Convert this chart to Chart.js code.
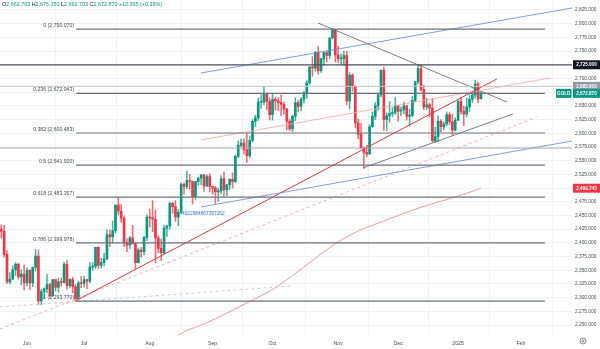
<!DOCTYPE html>
<html>
<head>
<meta charset="utf-8">
<script src="https://cdn.jsdelivr.net/npm/chart.js@4.4.1/dist/chart.umd.min.js"></script>
<style>
  html, body { margin: 0; padding: 0; background: #ffffff; }
  #wrap { width: 600px; height: 349px; position: relative; }
  canvas { display: block; }
</style>
</head>
<body>
<div id="wrap"><canvas id="c" width="600" height="349"></canvas></div>
<script>
// XAU/USD daily sessions, 20 May 2024 (index 0) to 14 Jan 2025 (index 169)
const opens = [
  2415,2425,2421,2379,2329,2334,2351,2361,2338,2343,
  2327,2350,2327,2355,2376,2294,2311,2316,2324,2304,
  2333,2319,2329,2328,2361,2322,2333,2320,2298,2327,
  2326,2333,2330,2356,2357,2392,2359,2364,2371,2415,
  2411,2422,2469,2458,2445,2400,2396,2409,2398,2364,
  2387,2384,2410,2447,2446,2443,2409,2390,2382,2427,
  2431,2472,2466,2447,2456,2507,2503,2514,2512,2484,
  2512,2518,2524,2504,2521,2503,2500,2493,2495,2517,
  2497,2506,2516,2512,2558,2578,2582,2570,2559,2587,
  2622,2628,2657,2657,2672,2658,2634,2662,2659,2656,
  2653,2644,2622,2608,2631,2656,2649,2662,2674,2692,
  2721,2719,2748,2714,2736,2747,2742,2774,2788,2743,
  2736,2736,2742,2659,2706,2685,2619,2598,2573,2565,
  2562,2612,2631,2650,2670,2715,2625,2632,2636,2638,
  2650,2640,2643,2650,2631,2633,2660,2694,2718,2680,
  2648,2652,2646,2586,2594,2622,2612,2617,2634,2621,
  2606,2624,2658,2640,2635,2648,2662,2670,2690,2662.703
];
const highs = [
  2450,2433,2432,2386,2346,2358,2364,2363,2351,2360,
  2354,2351,2356,2388,2387,2315,2318,2342,2326,2333,
  2334,2336,2336,2365,2368,2335,2337,2324,2330,2339,
  2339,2334,2364,2364,2392,2393,2372,2381,2424,2424,
  2440,2469,2483,2470,2449,2408,2412,2432,2399,2390,
  2392,2412,2451,2462,2477,2460,2413,2407,2432,2432,
  2474,2474,2477,2461,2509,2509,2531,2525,2513,2512,
  2520,2525,2525,2524,2526,2504,2503,2500,2523,2529,
  2507,2517,2528,2560,2586,2590,2590,2600,2595,2625,
  2633,2664,2670,2685,2674,2665,2673,2666,2665,2670,
  2657,2646,2625,2633,2665,2660,2665,2676,2696,2722,
  2740,2749,2758,2737,2748,2750,2774,2790,2790.07,2759,
  2745,2750,2750,2711,2709,2687,2626,2618,2575,2578,
  2616,2639,2656,2673,2716,2721,2637,2658,2647,2666,
  2651,2648,2657,2651,2644,2668,2695,2726,2726,2688,
  2664,2655,2664,2611,2632,2625,2621,2639,2638,2635,
  2628,2660,2665,2649,2664,2670,2674,2697,2693,2675.35
];
const lows = [
  2411,2409,2374,2326,2325,2333,2340,2334,2323,2314,
  2321,2315,2320,2349,2287,2287,2298,2309,2301,2302,
  2312,2310,2321,2326,2316,2318,2309,2294,2297,2318,
  2319,2316,2327,2350,2353,2353,2354,2358,2369,2393,
  2400,2418,2451,2438,2393,2384,2390,2400,2353,2363,
  2374,2378,2404,2429,2420,2364,2382,2368,2380,2412,
  2425,2454,2439,2431,2453,2489,2499,2498,2471,2479,
  2505,2506,2494,2502,2493,2489,2472,2476,2490,2485,
  2486,2497,2500,2510,2555,2575,2562,2547,2555,2584,
  2612,2623,2646,2652,2643,2624,2624,2642,2641,2632,
  2635,2606,2605,2603,2623,2639,2641,2655,2664,2689,
  2704,2713,2708,2711,2724,2730,2736,2772,2730,2729,
  2726,2724,2652,2644,2677,2610,2590,2572,2536,2557,
  2562,2611,2625,2642,2667,2605,2605,2620,2630,2634,
  2622,2632,2636,2624,2613,2630,2657,2690,2677,2643,
  2643,2630,2584,2583,2584,2603,2606,2614,2616,2597,
  2604,2623,2635,2614,2630,2640,2656,2664,2656,2662.703
];
const closes = [
  2425,2421,2379,2329,2334,2351,2361,2338,2343,2327,
  2350,2327,2355,2376,2294,2311,2316,2324,2304,2333,
  2319,2329,2328,2361,2322,2333,2320,2298,2327,2326,
  2333,2330,2356,2357,2392,2359,2364,2371,2415,2411,
  2422,2469,2458,2445,2400,2396,2409,2398,2364,2387,
  2384,2410,2447,2446,2443,2409,2390,2382,2427,2431,
  2472,2466,2447,2456,2507,2503,2514,2512,2484,2512,
  2518,2524,2504,2521,2503,2500,2493,2495,2517,2497,
  2506,2516,2512,2558,2578,2582,2570,2559,2587,2622,
  2628,2657,2657,2672,2658,2634,2662,2659,2656,2653,
  2644,2622,2608,2631,2656,2649,2662,2674,2692,2721,
  2719,2748,2714,2736,2747,2742,2774,2788,2743,2736,
  2736,2742,2659,2706,2685,2619,2598,2573,2565,2562,
  2612,2631,2650,2670,2715,2625,2632,2636,2638,2650,
  2640,2643,2650,2631,2633,2660,2694,2718,2680,2648,
  2652,2646,2586,2594,2622,2612,2617,2634,2621,2606,
  2624,2658,2640,2635,2648,2662,2670,2690,2662.475,2672.87
];

// Month labels on the time axis and the session index where each month starts
const monthNames = ['Jun', 'Jul', 'Aug', 'Sep', 'Oct', 'Nov', 'Dec', '2025', 'Feb'];
const monthStart = [10, 30, 53, 75, 96, 119, 140, 161, 183];

// Price axis labels
const priceTicks = [2250, 2275, 2300, 2325, 2350, 2375, 2400, 2425, 2450, 2475, 2500, 2525,
  2550, 2575, 2600, 2625, 2650, 2675, 2700, 2725, 2750, 2775, 2800, 2825];

// 200-day moving average, sampled by session index
const maIndex = [55, 60, 66, 72, 80, 88, 96, 106, 113, 120, 127, 134, 141, 148, 155, 162, 169];
const maValue = [2205, 2222, 2240, 2252, 2272, 2293, 2315, 2352, 2380, 2405, 2424, 2438, 2452, 2465, 2476, 2487, 2499.745];

// Fibonacci retracement from the 26 Jun low to the 31 Oct high
const fibLevels = ['0', '0.236', '0.382', '0.5', '0.618', '0.786', '1'];
const fibPrices = [2790.070, 2672.943, 2600.483, 2541.920, 2483.357, 2399.978, 2293.770];
const fibSpan = [27.2, 191.4];

// Horizontal price levels across the whole chart
const levelPrices = [2725, 2685.6, 2573];

// Trend lines: [startIndex, startPrice, endIndex, endPrice]
const channelUpper = [70.95, 2710.0, 200.9, 2828.6];
const channelLower = [70.95, 2465.5, 200.9, 2585.9];
const supportLine = [27.0, 2294.0, 174.6, 2699.1];
const midLine = [70.95, 2587.8, 193.2, 2700.9];
const dashedSupport = [0.54, 2242.9, 188.6, 2629.7];
const dashedBase = [0.54, 2283.0, 102.8, 2321.4];
const triangleTop = [111.9, 2801.3, 178.1, 2657.1];
const triangleBottom = [127.7, 2536.7, 180.2, 2635.2];

const channelTag = '4022984667397152';

const UP = '#089981';
const DOWN = '#f23645';
const FONT = '"Liberation Sans", Arial, sans-serif';

function fmt(v) {
  return v.toLocaleString('en-US', { minimumFractionDigits: 3, maximumFractionDigits: 3 });
}

const candleColors = closes.map((c, i) => (c >= opens[i] ? UP : DOWN));
const wickColors = closes.map((c, i) => (c >= opens[i] ? 'rgba(8,153,129,0.75)' : 'rgba(242,54,69,0.75)'));

function seg(p, color, width, dash) {
  return {
    type: 'line',
    data: [{ x: p[0], y: p[1] }, { x: p[2], y: p[3] }],
    borderColor: color,
    borderWidth: width,
    borderDash: dash || [],
    pointRadius: 0,
    fill: false,
    order: 0
  };
}

const datasets = [
  {
    type: 'bar',
    data: highs.map((h, i) => ({ x: i, y: [lows[i], h] })),
    backgroundColor: wickColors,
    barThickness: 0.9,
    grouped: false,
    order: 3
  },
  {
    type: 'bar',
    data: opens.map((o, i) => ({ x: i, y: [o, closes[i]] })),
    backgroundColor: candleColors,
    barThickness: 2,
    minBarLength: 0.8,
    grouped: false,
    order: 2
  },
  {
    type: 'line',
    data: maIndex.map((x, i) => ({ x, y: maValue[i] })),
    borderColor: '#f08080',
    borderWidth: 0.8,
    pointRadius: 0,
    cubicInterpolationMode: 'monotone',
    fill: false,
    order: 1
  }
];

// Fibonacci level lines
fibPrices.forEach((p) => {
  datasets.push(seg([fibSpan[0], p, fibSpan[1], p], '#6f727c', 1.2));
});
// Full-width price levels
datasets.push(seg([0.54, levelPrices[0], 200.9, levelPrices[0]], '#50535e', 1.3));
datasets.push(seg([0.54, levelPrices[1], 200.9, levelPrices[1]], '#c3c6ce', 1));
datasets.push(seg([0.54, levelPrices[2], 200.9, levelPrices[2]], '#a3a6af', 1));
// Trend lines
datasets.push(seg(channelUpper, '#5f84e0', 0.8));
datasets.push(seg(channelLower, '#5f84e0', 0.8));
datasets.push(seg(supportLine, '#e2363c', 1));
datasets.push(seg(midLine, '#f2a4a4', 0.8));
datasets.push(seg(dashedSupport, '#f29a9a', 0.8, [3, 3]));
datasets.push(seg(dashedBase, '#bfc2ca', 0.8, [3, 3]));
datasets.push(seg(triangleTop, '#5a5e69', 0.8));
datasets.push(seg(triangleBottom, '#5a5e69', 0.8));

const overlay = {
  id: 'overlay',
  afterDatasetsDraw(chart) {
    const ctx = chart.ctx;
    const xs = chart.scales.x;
    const ys = chart.scales.y;
    ctx.save();

    // Fibonacci labels at the left end of each level
    ctx.font = '5.2px ' + FONT;
    ctx.fillStyle = '#4a4d57';
    ctx.textAlign = 'right';
    ctx.textBaseline = 'bottom';
    const lx = xs.getPixelForValue(fibSpan[0]) - 2;
    fibPrices.forEach((p, i) => {
      ctx.fillText(fibLevels[i] + ' (' + fmt(p) + ')', lx, ys.getPixelForValue(p) - 1);
    });

    // Channel tag next to the lower channel line
    ctx.fillStyle = '#3c6ce0';
    ctx.textAlign = 'left';
    ctx.textBaseline = 'middle';
    ctx.font = '4.8px ' + FONT;
    ctx.fillText(channelTag, xs.getPixelForValue(channelLower[0]) - 19, ys.getPixelForValue(channelLower[1]) + 7);

    ctx.restore();
  },
  afterDraw(chart) {
    const ctx = chart.ctx;
    const ys = chart.scales.y;
    const last = closes.length - 1;
    ctx.save();

    // OHLC header of the latest session
    const change = closes[last] - closes[last - 1];
    const pct = change / closes[last - 1] * 100;
    const parts = [
      ['O', '#131722'], [fmt(opens[last]), UP],
      [' H', '#131722'], [fmt(highs[last]), UP],
      [' L', '#131722'], [fmt(lows[last]), UP],
      [' C', '#131722'], [fmt(closes[last]), UP],
      [' ' + (change >= 0 ? '+' : '') + fmt(change) + ' (' + (pct >= 0 ? '+' : '') + pct.toFixed(2) + '%)', UP]
    ];
    ctx.font = '5.4px ' + FONT;
    ctx.textBaseline = 'middle';
    ctx.textAlign = 'left';
    let hx = 2;
    parts.forEach(([t, col]) => {
      ctx.fillStyle = col;
      ctx.fillText(t, hx, 5);
      hx += ctx.measureText(t).width;
    });

    // Price tags on the right axis
    function tag(price, text, bg, fg, x0, x1) {
      const y = ys.getPixelForValue(price);
      ctx.fillStyle = bg;
      ctx.fillRect(x0, y - 4.5, x1 - x0, 9);
      ctx.fillStyle = fg;
      ctx.font = 'bold 4.6px ' + FONT;
      ctx.textAlign = 'center';
      ctx.textBaseline = 'middle';
      ctx.fillText(text, (x0 + x1) / 2, y + 0.3);
    }
    tag(levelPrices[0], fmt(levelPrices[0]), '#131722', '#ffffff', 573, 600);
    tag(levelPrices[1], fmt(levelPrices[1]), '#9598a1', '#ffffff', 573, 600);
    tag(closes[last], fmt(closes[last]), UP, '#ffffff', 573, 600);
    tag(closes[last], 'GOLD', UP, '#ffffff', 556, 571.5);
    tag(maValue[maValue.length - 1], fmt(maValue[maValue.length - 1]), DOWN, '#ffffff', 573, 600);

    // Settings gear in the corner
    ctx.strokeStyle = '#6a6d78';
    ctx.lineWidth = 0.8;
    ctx.beginPath();
    ctx.arc(583, 341, 3, 0, Math.PI * 2);
    ctx.stroke();
    ctx.beginPath();
    ctx.arc(583, 341, 1.1, 0, Math.PI * 2);
    ctx.stroke();
    ctx.restore();
  }
};

new Chart(document.getElementById('c'), {
  type: 'bar',
  data: { datasets },
  options: {
    responsive: false,
    animation: false,
    devicePixelRatio: 1,
    layout: { padding: 0 },
    plugins: { legend: { display: false }, tooltip: { enabled: false } },
    scales: {
      x: {
        type: 'linear',
        min: 0.54,
        max: 200.9,
        offset: false,
        grid: { color: '#f0f2f6', lineWidth: 1, drawTicks: false },
        border: { display: false },
        afterBuildTicks(scale) {
          scale.ticks = monthStart.map(v => ({ value: v }));
        },
        ticks: {
          autoSkip: false,
          maxRotation: 0,
          padding: 5,
          color: '#4a4d57',
          font: { size: 5.2, family: FONT },
          callback(value) {
            const k = monthStart.indexOf(value);
            return k >= 0 ? monthNames[k] : '';
          }
        },
        afterFit(scale) {
          scale.height = 14;
          scale.paddingLeft = 0;
          scale.paddingRight = 0;
        }
      },
      y: {
        type: 'linear',
        position: 'right',
        min: 2231.9,
        max: 2843.2,
        grid: { color: '#f0f2f6', lineWidth: 1, drawTicks: false },
        border: { display: false },
        afterBuildTicks(scale) {
          scale.ticks = priceTicks.map(v => ({ value: v }));
        },
        ticks: {
          autoSkip: false,
          padding: 3,
          color: '#4a4d57',
          font: { size: 4.8, family: FONT },
          callback(value) { return fmt(value); }
        },
        afterFit(scale) {
          scale.width = 28;
          scale.paddingTop = 0;
          scale.paddingBottom = 0;
        }
      }
    }
  },
  plugins: [overlay]
});
</script>
</body>
</html>
